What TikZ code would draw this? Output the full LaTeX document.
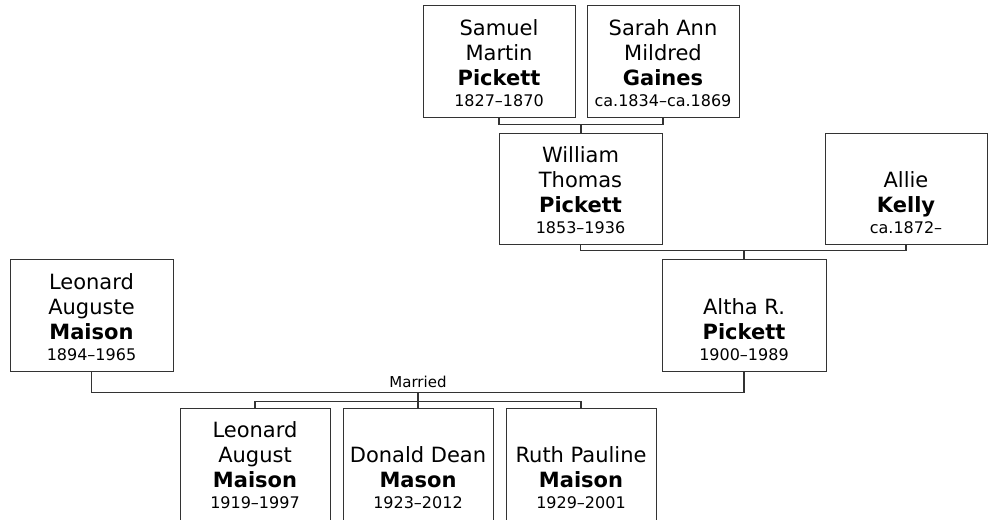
\documentclass[tikz,border=0pt]{standalone}
\usepackage{fontspec}
\setmainfont{DejaVu Sans}
\definecolor{linegray}{HTML}{333333}
\begin{document}
\begin{tikzpicture}[x=1pt,y=-1pt,
  personbox/.style={draw=linegray,line width=1pt,inner sep=0pt,minimum height=111pt},
  persontext/.style={anchor=south,align=center,inner sep=0pt,text depth=0pt,
    font=\fontsize{21}{25}\selectfont},
  link/.style={draw=linegray,line width=1.1pt}]
\newcommand{\yrs}[1]{\\[-4pt]{\fontsize{16}{21}\selectfont #1}}
\useasboundingbox (0,0) rectangle (992,519);
\clip (0,0) rectangle (992,519);
% top generation
\node[personbox,minimum width=152pt] (sam) at (499,61.5) {};
\node[personbox,minimum width=152pt] (sarah) at (663,61.5) {};
% middle
\node[personbox,minimum width=163pt] (will) at (580.5,188.5) {};
\node[personbox,minimum width=162pt] (allie) at (906,188.5) {};
\node[personbox,minimum width=164pt,minimum height=112pt] (altha) at (744,315) {};
\node[personbox,minimum width=163pt,minimum height=112pt] (leo) at (91.5,315) {};
% children
\node[personbox,minimum width=150pt,minimum height=121pt] (ch1) at (255,468.5) {};
\node[personbox,minimum width=150pt,minimum height=121pt] (ch2) at (418,468.5) {};
\node[personbox,minimum width=150pt,minimum height=121pt] (ch3) at (581,468.5) {};
% texts
\node[persontext] (samt) at ([yshift=10.5pt]sam.south) {Samuel\\Martin\\\textbf{Pickett}\yrs{1827–1870}};
\node[persontext] (saraht) at ([yshift=10.5pt]sarah.south) {Sarah Ann\\Mildred\\\textbf{Gaines}\yrs{ca.1834–ca.1869}};
\node[persontext] (willt) at ([yshift=10.5pt]will.south) {William\\Thomas\\\textbf{Pickett}\yrs{1853–1936}};
\node[persontext] (alliet) at ([yshift=10.5pt]allie.south) {Allie\\\textbf{Kelly}\yrs{ca.1872–}};
\node[persontext] (althat) at ([yshift=10.5pt]altha.south) {Altha R.\\\textbf{Pickett}\yrs{1900–1989}};
\node[persontext] (leot) at ([yshift=10.5pt]leo.south) {Leonard\\Auguste\\\textbf{Maison}\yrs{1894–1965}};
\node[persontext] (ch1t) at ([yshift=21pt]ch1.south) {Leonard\\August\\\textbf{Maison}\yrs{1919–1997}};
\node[persontext] (ch2t) at ([yshift=21pt]ch2.south) {Donald Dean\\\textbf{Mason}\yrs{1923–2012}};
\node[persontext] (ch3t) at ([yshift=21pt]ch3.south) {Ruth Pauline\\\textbf{Maison}\yrs{1929–2001}};
% connectors
\coordinate (c1) at (581,124);
\coordinate (c2) at (744,250);
\coordinate (m) at (418,392);
\draw[link] (sam.south) -- ++(0,7) -| (sarah.south);
\draw[link] (c1) -- (c1 |- will.north);
\draw[link] (will.south) -- ++(0,6) -| (allie.south);
\draw[link] (c2) -- (altha.north);
\draw[link] (leo.south) -- ++(0,21) -| (altha.south);
\node[anchor=base,inner sep=0pt,font=\fontsize{15}{18}\selectfont] (married) at (418,387) {Married};
\draw[link] (m) -- (ch2.north);
\draw[link] (ch1.north) -- ++(0,-6) -| (ch3.north);
\end{tikzpicture}
\end{document}
